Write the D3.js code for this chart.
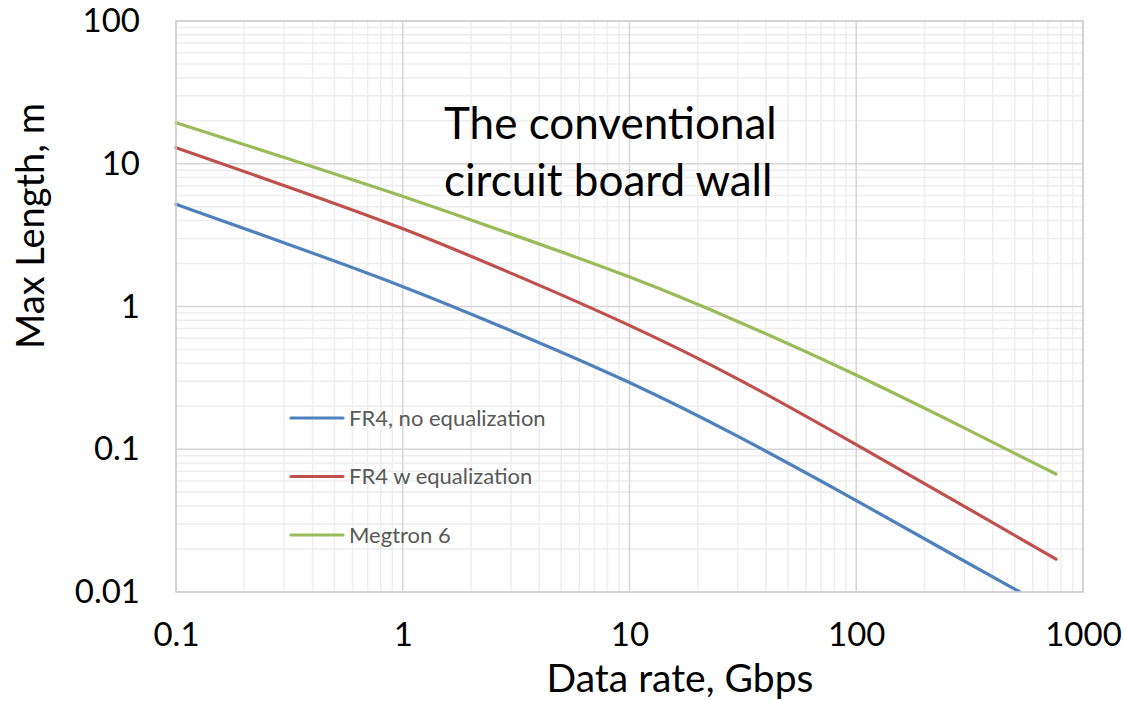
<!DOCTYPE html>
<html>
<head>
<meta charset="utf-8">
<script src="https://cdn.jsdelivr.net/npm/d3@7"></script>
<style>
  body { margin: 0; background: #fff; }
  text { font-family: Lato, "Open Sans", sans-serif; }
</style>
</head>
<body>
<div id="chart-area"></div>
<script>
// Data (Gbps -> max length in m)
var rates       = [0.1, 0.3, 1, 3, 10, 30, 100, 300, 760];
var fr4NoEq     = [5.20, 2.80, 1.40, 0.68, 0.300, 0.125, 0.044, 0.0164, null];
var fr4NoEqTail = [527, 0.01];
var fr4Eq       = [12.95, 7.05, 3.58, 1.72, 0.750, 0.318, 0.108, 0.0398, 0.0170];
var megtron6    = [19.4, 11.1, 5.95, 3.22, 1.64, 0.795, 0.335, 0.141, 0.0671];

var seriesNames  = ['FR4, no equalization', 'FR4 w equalization', 'Megtron 6'];
var seriesColors = ['#4F81BD', '#C0504D', '#9BBB59'];

var xTicks = [0.1, 1, 10, 100, 1000];
var yTicks = [0.01, 0.1, 1, 10, 100];

var W = 1124, H = 701;
var margin = { left: 176, right: 41, top: 21, bottom: 109 };
var width = W - margin.left - margin.right,
    height = H - margin.top - margin.bottom;

var svg = d3.select('#chart-area')
  .append('svg')
    .attr('width', W)
    .attr('height', H);

var g = svg.append('g')
  .attr('transform', 'translate(' + margin.left + ',' + margin.top + ')');

var x = d3.scaleLog().domain([0.1, 1000]).range([0, width]);
var y = d3.scaleLog().domain([0.01, 100]).range([height, 0]);

// minor grid lines (2..9 of each decade)
var minorX = [], minorY = [];
[0.1, 1, 10, 100].forEach(function(d) {
  for (var k = 2; k <= 9; k++) minorX.push(d * k);
});
[0.01, 0.1, 1, 10].forEach(function(d) {
  for (var k = 2; k <= 9; k++) minorY.push(d * k);
});

g.selectAll('.minor-x').data(minorX).enter().append('line')
  .attr('x1', d => x(d)).attr('x2', d => x(d))
  .attr('y1', 0).attr('y2', height)
  .attr('stroke', '#eeeeee').attr('stroke-width', 1.5);
g.selectAll('.minor-y').data(minorY).enter().append('line')
  .attr('y1', d => y(d)).attr('y2', d => y(d))
  .attr('x1', 0).attr('x2', width)
  .attr('stroke', '#eeeeee').attr('stroke-width', 1.5);

// major grid
g.selectAll('.major-x').data(xTicks).enter().append('line')
  .attr('x1', d => x(d)).attr('x2', d => x(d))
  .attr('y1', 0).attr('y2', height)
  .attr('stroke', '#d6d6d6').attr('stroke-width', 1.5);
g.selectAll('.major-y').data(yTicks).enter().append('line')
  .attr('y1', d => y(d)).attr('y2', d => y(d))
  .attr('x1', 0).attr('x2', width)
  .attr('stroke', '#d6d6d6').attr('stroke-width', 1.5);

// axes (labels only, Excel style)
var fmt = d => String(d);
var xAxis = g.append('g')
  .attr('transform', 'translate(0,' + height + ')')
  .call(d3.axisBottom(x).tickValues(xTicks).tickFormat(fmt).tickSize(0).tickPadding(31));
var yAxis = g.append('g')
  .call(d3.axisLeft(y).tickValues(yTicks).tickFormat(fmt).tickSize(0).tickPadding(36));
[xAxis, yAxis].forEach(function(a) {
  a.select('.domain').remove();
  a.selectAll('text')
    .attr('font-family', 'Lato, "Open Sans", sans-serif')
    .attr('font-size', '33px')
    .attr('fill', '#000');
});

// clip for lines
svg.append('clipPath').attr('id', 'plot-clip')
  .append('rect').attr('x', -2).attr('y', -2).attr('width', width + 4).attr('height', height + 2);

var series = [fr4NoEq, fr4Eq, megtron6].map(function(vals, i) {
  var pts = [];
  rates.forEach(function(r, j) { if (vals[j] != null) pts.push([r, vals[j]]); });
  if (i === 0) pts.push(fr4NoEqTail);
  return { name: seriesNames[i], color: seriesColors[i], values: pts };
});

var line = d3.line()
  .x(d => x(d[0]))
  .y(d => y(d[1]))
  .curve(d3.curveBasis);

g.append('g').attr('clip-path', 'url(#plot-clip)')
  .selectAll('path').data(series).enter().append('path')
    .attr('d', d => line(d.values))
    .attr('fill', 'none')
    .attr('stroke', d => d.color)
    .attr('stroke-width', 3.2)
    .attr('stroke-linecap', 'round');

// plot border
g.append('rect')
  .attr('width', width).attr('height', height)
  .attr('fill', 'none').attr('stroke', '#d0d0d0').attr('stroke-width', 1.5);

// legend
var legend = g.selectAll('.legend').data(series).enter().append('g')
  .attr('transform', (d, i) => 'translate(' + (291 - margin.left) + ',' + (418 - margin.top + i * 58.5) + ')');
legend.append('line')
  .attr('x1', 0).attr('x2', 52)
  .attr('stroke', d => d.color).attr('stroke-width', 3.2).attr('stroke-linecap', 'round');
legend.append('text')
  .attr('x', 58).attr('dy', '0.35em')
  .attr('font-size', '22px')
  .attr('fill', '#595959')
  .text(d => d.name);

// annotation
svg.append('text')
  .attr('x', 444).attr('y', 139)
  .attr('font-size', '44px')
  .text('The conventional');
svg.append('text')
  .attr('x', 444).attr('y', 196)
  .attr('font-size', '44px')
  .text('circuit board wall');

// axis titles
svg.append('text')
  .attr('x', 680).attr('y', 692)
  .attr('text-anchor', 'middle')
  .attr('font-size', '39px')
  .text('Data rate, Gbps');

svg.append('text')
  .attr('transform', 'translate(44,226) rotate(-90)')
  .attr('text-anchor', 'middle')
  .attr('font-size', '38px')
  .text('Max Length, m');
</script>
</body>
</html>
